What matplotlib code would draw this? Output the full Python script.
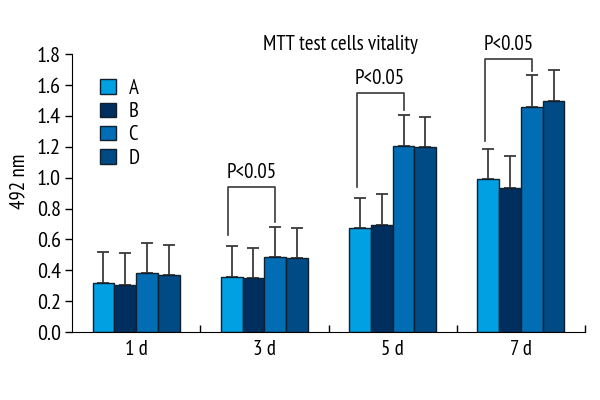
import matplotlib
matplotlib.use('Agg')
import matplotlib.pyplot as plt
import matplotlib.patches as mpatches
import numpy as np

plt.rcParams['font.family'] = ['PT Sans Narrow', 'DejaVu Sans']

days = ['1 d', '3 d', '5 d', '7 d']
groups = ['A', 'B', 'C', 'D']
colors = ['#00a0e2', '#002f5f', '#006db5', '#004a85']

# bar heights (OD at 492 nm) per group, per day
means = {
    'A': [0.32, 0.357, 0.676, 0.993],
    'B': [0.307, 0.35, 0.69, 0.935],
    'C': [0.38, 0.488, 1.205, 1.455],
    'D': [0.371, 0.477, 1.196, 1.495],
}
# top of the error bar
tops = {
    'A': [0.52, 0.557, 0.868, 1.187],
    'B': [0.51, 0.542, 0.894, 1.14],
    'C': [0.576, 0.678, 1.407, 1.668],
    'D': [0.565, 0.675, 1.392, 1.70],
}

# significance brackets: (day index, left bar, right bar, y of top, left leg end, right leg end)
brackets = [
    (1, 0, 2, 0.94, 0.628, 0.714),
    (2, 0, 2, 1.55, 0.94, 1.44),
    (3, 0, 2, 1.77, 1.24, 1.69),
]

fig = plt.figure(figsize=(6, 4), dpi=100)
ax = fig.add_axes([0.12, 0.17, 0.855, 0.7525])

width = 0.17
centers = np.arange(len(days)) + 0.5
for i, g in enumerate(groups):
    x = centers + (i - 1.5) * width
    m = np.array(means[g])
    err = np.array(tops[g]) - m
    ax.bar(x, m, width, color=colors[i], edgecolor='#10202e', linewidth=1.0, zorder=2)
    ax.errorbar(x, m, yerr=[np.zeros_like(err), err], fmt='none',
                ecolor='#3a3a3a', elinewidth=1.3, capsize=4.3, capthick=1.3, zorder=1)

for d, l, r, ytop, yl, yr in brackets:
    xl = centers[d] + (l - 1.5) * width - 0.025
    xr = centers[d] + (r - 1.5) * width
    ax.plot([xl, xl, xr, xr], [yl, ytop, ytop, yr], color='#3a3a3a', lw=1.2)
    ax.text((xl + xr) / 2, ytop + 0.03, 'P<0.05', ha='center', va='bottom', fontsize=15)

ax.text(2.09, 1.86, 'MTT test cells vitality', ha='center', va='center', fontsize=15)

ax.set_xlim(0, 4)
ax.set_ylim(0, 1.95)
ax.set_yticks(np.arange(0, 1.81, 0.2))
ax.set_yticklabels(['%.1f' % v for v in np.arange(0, 1.81, 0.2)], fontsize=16)
ax.set_xticks(centers)
ax.set_xticklabels(days, fontsize=15)
ax.set_xticks([1, 2, 3, 4], minor=True)
ax.tick_params(axis='x', which='major', length=0, pad=6)
ax.tick_params(axis='x', which='minor', direction='in', length=5, width=1)
ax.tick_params(axis='y', length=5, width=1, pad=3)
ax.spines['top'].set_visible(False)
ax.spines['right'].set_visible(False)
ax.spines['left'].set_bounds(0, 1.8)
ax.set_ylabel('492 nm', fontsize=15, labelpad=6)

handles = [mpatches.Patch(facecolor=c, edgecolor='#10202e', label=g) for g, c in zip(groups, colors)]
ax.legend(handles=handles, loc='upper left', bbox_to_anchor=(0.035, 0.875), frameon=False,
          fontsize=15, handlelength=0.75, handleheight=0.7, labelspacing=0.2,
          handletextpad=0.6, borderpad=0)

fig.savefig('out.png', dpi=100)
